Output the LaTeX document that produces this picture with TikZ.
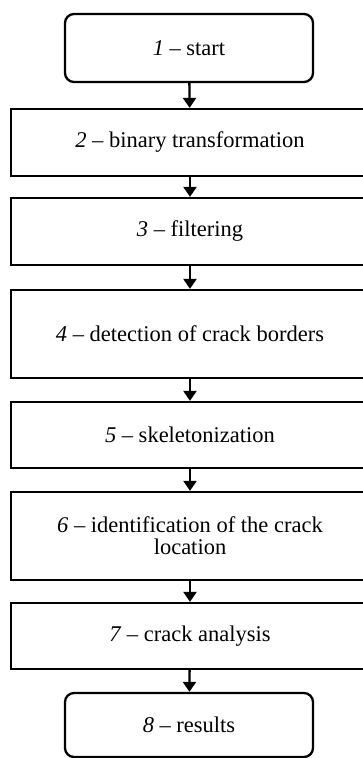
\documentclass[tikz,border=0pt]{standalone}
\usepackage{fontspec}
\setmainfont{Liberation Serif}
\usetikzlibrary{arrows.meta}

\begin{document}
\begin{tikzpicture}[x=1pt, y=-1pt,
    stepbox/.style={draw, line width=2.3pt, rectangle, inner sep=0pt,
                    minimum width=358pt, font=\fontsize{22.5}{22}\selectfont, align=center},
    endbox/.style={draw, line width=2.3pt, rectangle, rounded corners=9pt, inner sep=0pt,
                   minimum width=248pt, font=\fontsize{22.5}{22}\selectfont},
    flow/.style={line width=2.3pt, -{Triangle[length=10pt,width=13pt]}}]
  \clip (0,0) rectangle (363,758);
  \node[endbox, minimum height=68pt] (start) at (189,48) {\textit{1} – start};
  \node[stepbox, minimum height=67pt] (binary) at (190,142.5) {\textit{2} – binary transformation};
  \node[stepbox, minimum height=67pt] (filter) at (190,231.5) {\textit{3} – filtering};
  \node[stepbox, minimum height=88pt] (borders) at (190,334) {\textit{4} – detection of crack borders};
  \node[stepbox, minimum height=66pt] (skeleton) at (190,435) {\textit{5} – skeletonization};
  \node[stepbox, minimum height=88pt] (locate) at (190,536) {\textit{6} – identification of the crack\\location};
  \node[stepbox, minimum height=66pt] (analysis) at (190,636) {\textit{7} – crack analysis};
  \node[endbox, minimum height=64pt] (results) at (189,725) {\textit{8} – results};
  \draw[flow] (start) -- (binary);
  \draw[flow] (binary) -- (filter);
  \draw[flow] (filter) -- (borders);
  \draw[flow] (borders) -- (skeleton);
  \draw[flow] (skeleton) -- (locate);
  \draw[flow] (locate) -- (analysis);
  \draw[flow] (analysis) -- (results);
\end{tikzpicture}
\end{document}
